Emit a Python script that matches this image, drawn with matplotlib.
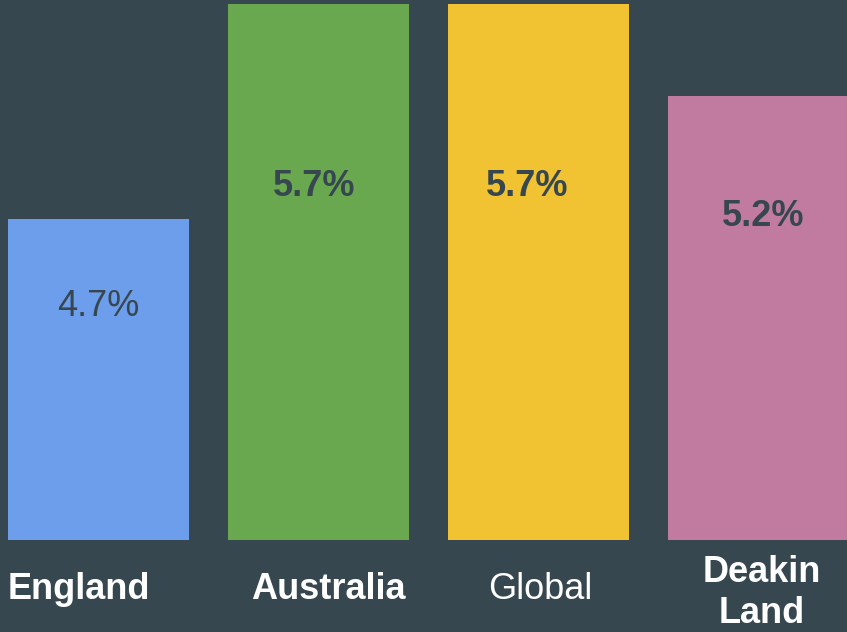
import matplotlib
matplotlib.use('Agg')
import matplotlib.pyplot as plt
import matplotlib.transforms as mtransforms

# ------------------------------------------------------------------
# ------------------------- Data -----------------------------------
# ------------------------------------------------------------------
categories = ['England', 'Australia', 'Global', 'Deakin\nLand']
values = [4.7, 5.7, 5.7, 5.2]
value_labels = ['4.7%', '5.7%', '5.7%', '5.2%']
bar_colors = ['#6D9EEB', '#6AA84F', '#F1C232', '#C27BA0']
value_weights = ['normal', 'bold', 'bold', 'bold']
cat_weights = ['bold', 'bold', 'normal', 'bold']

# ------------------------------------------------------------------
# ------------------------- Layout ---------------------------------
# ------------------------------------------------------------------
bg = '#37474F'
plt.rcParams['font.family'] = ['Liberation Sans', 'DejaVu Sans']

fig = plt.figure(figsize=(8.47, 6.32), dpi=100, facecolor=bg)
ax1 = fig.add_axes([0, 92 / 632, 1, 536 / 632])
ax1.set_facecolor(bg)

x = list(range(len(categories)))
ax1.bar(x, values, width=0.8227, color=bar_colors, bottom=0)
ax1.set_xlim(-0.4477, 3.402)
ax1.set_ylim(3.395, 5.574)
ax1.axis('off')

# value labels inside the bars (x offset, y in axes fraction)
val_dx = [0.0, -0.02, -0.05, 0.02]
val_y = [(540 - 306) / 536, (540 - 187) / 536, (540 - 187) / 536, (540 - 217) / 536]
trans = mtransforms.blended_transform_factory(ax1.transData, ax1.transAxes)
for i in x:
    ax1.text(i + val_dx[i], val_y[i], value_labels[i], transform=trans,
             ha='center', va='center', fontsize=26, color=bg,
             fontweight=value_weights[i])

# category labels below the bars
cat_dx = [-0.088, 0.045, 0.01, 0.015]
cat_y = [(540 - 599) / 536] * 3 + [(540 - 623) / 536]
for i in x:
    ax1.text(i + cat_dx[i], cat_y[i], categories[i], transform=trans,
             ha='center', va='baseline', fontsize=26, color='white',
             fontweight=cat_weights[i], linespacing=1.22, clip_on=False)

plt.savefig('out.png', dpi=100, facecolor=bg)
